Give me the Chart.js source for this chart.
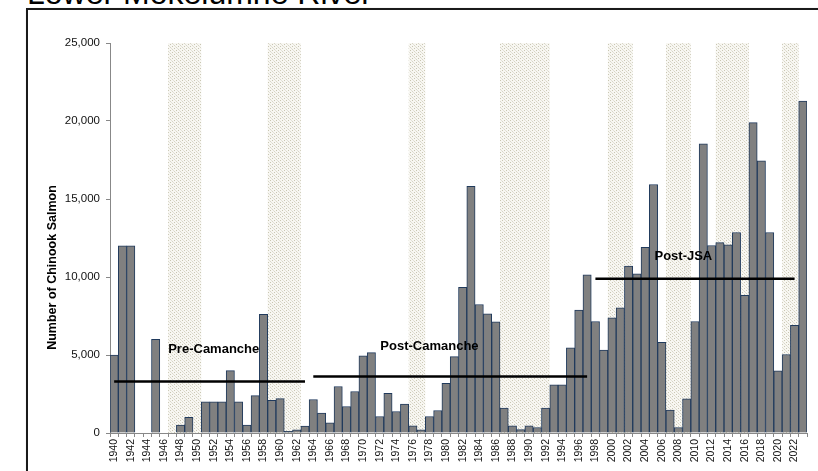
<!DOCTYPE html>
<html>
<head>
<meta charset="utf-8">
<script src="https://cdn.jsdelivr.net/npm/chart.js@4/dist/chart.umd.min.js"></script>
<style>
html, body { margin: 0; padding: 0; background: #fff; overflow: hidden; }
#wrap { position: relative; width: 818px; height: 471px; overflow: hidden; }
#title { position: absolute; left: 27px; top: -23px; margin: 0; font: 32px "Liberation Sans", Arial, sans-serif; line-height: 32px; color: #000; white-space: nowrap; font-weight: normal; }
#frame { position: absolute; left: 26px; top: 8px; width: 900px; height: 600px; border: 2px solid #1a1a1a; box-shadow: 1px 1px 2px #999; }
#chart { position: absolute; left: 0; top: 0; }
</style>
</head>
<body>
<div id="wrap">
  <h1 id="title">Lower Mokelumne River</h1>
  <div id="frame"></div>
  <canvas id="chart" width="818" height="471"></canvas>
</div>
<script>
const years = [1940, 1941, 1942, 1943, 1944, 1945, 1946, 1947, 1948, 1949,
  1950, 1951, 1952, 1953, 1954, 1955, 1956, 1957, 1958, 1959,
  1960, 1961, 1962, 1963, 1964, 1965, 1966, 1967, 1968, 1969,
  1970, 1971, 1972, 1973, 1974, 1975, 1976, 1977, 1978, 1979,
  1980, 1981, 1982, 1983, 1984, 1985, 1986, 1987, 1988, 1989,
  1990, 1991, 1992, 1993, 1994, 1995, 1996, 1997, 1998, 1999,
  2000, 2001, 2002, 2003, 2004, 2005, 2006, 2007, 2008, 2009,
  2010, 2011, 2012, 2013, 2014, 2015, 2016, 2017, 2018, 2019,
  2020, 2021, 2022, 2023];

// escapement per year (null = no count)
const salmon = [5000, 12000, 12000, null, null, 6000, null, null, 500, 1000,
  null, 2000, 2000, 2000, 4000, 2000, 500, 2400, 7600, 2100,
  2200, 100, 200, 450, 2150, 1270, 650, 2980, 1700, 2660,
  4950, 5150, 1060, 2550, 1380, 1850, 460, 200, 1060, 1440,
  3190, 4900, 9330, 15820, 8240, 7640, 7130, 1590, 460, 220,
  460, 350, 1600, 3090, 3090, 5460, 7880, 10140, 7150, 5320,
  7380, 8030, 10700, 10200, 11900, 15930, 5820, 1470, 350, 2190,
  7150, 18540, 12020, 12200, 12060, 12850, 8830, 19900, 17440, 12850,
  3990, 5030, 6900, 21270];

const xTickLabels = [1940, 1942, 1944, 1946, 1948, 1950, 1952, 1954, 1956, 1958,
  1960, 1962, 1964, 1966, 1968, 1970, 1972, 1974, 1976, 1978,
  1980, 1982, 1984, 1986, 1988, 1990, 1992, 1994, 1996, 1998,
  2000, 2002, 2004, 2006, 2008, 2010, 2012, 2014, 2016, 2018,
  2020, 2022];
const yTicks = [0, 5000, 10000, 15000, 20000, 25000];

const droughtYears = [1947, 1948, 1949, 1950, 1959, 1960, 1961, 1962, 1976, 1977,
  1987, 1988, 1989, 1990, 1991, 1992, 2000, 2001, 2002, 2007, 2008, 2009,
  2013, 2014, 2015, 2016, 2021, 2022];

const periodNames = ['Pre-Camanche', 'Post-Camanche', 'Post-JSA'];
const periodStart = [1940, 1964, 1998];
const periodEnd = [1963, 1997, 2022];
const periodMean = [3300, 3620, 9880];

// where each period name sits: category index offset and value
const labelX = [12, 38, 68.6];
const labelY = [5350, 5560, 11300];

function hatch() {
  const c = document.createElement('canvas');
  c.width = 6; c.height = 6;
  const g = c.getContext('2d');
  g.fillStyle = '#f8f7f2';
  g.fillRect(0, 0, 6, 6);
  g.fillStyle = '#c9c6b2';
  for (let i = 0; i < 6; i += 2) g.fillRect(i, i, 1, 1);
  g.fillStyle = '#d8d6c8';
  for (let i = 1; i < 6; i += 2) g.fillRect((i + 3) % 6, i, 1, 1);
  g.fillStyle = '#e3e1d6';
  for (let i = 0; i < 6; i += 2) g.fillRect((i + 3) % 6, i, 1, 1);
  return g.createPattern(c, 'repeat');
}

const bands = {
  id: 'bands',
  beforeDatasetsDraw(chart) {
    const { ctx, scales: { x, y } } = chart;
    const half = (x.getPixelForValue(1) - x.getPixelForValue(0)) / 2;
    const top = y.getPixelForValue(yTicks[yTicks.length - 1]);
    const bottom = y.getPixelForValue(0);
    ctx.save();
    ctx.fillStyle = hatch();
    let i = 0;
    while (i < droughtYears.length) {
      let j = i;
      while (j + 1 < droughtYears.length && droughtYears[j + 1] === droughtYears[j] + 1) j++;
      const x0 = x.getPixelForValue(years.indexOf(droughtYears[i])) - half;
      const x1 = x.getPixelForValue(years.indexOf(droughtYears[j])) + half;
      ctx.fillRect(x0, top, x1 - x0, bottom - top);
      i = j + 1;
    }
    ctx.restore();
  }
};

const texts = {
  id: 'texts',
  afterDraw(chart) {
    const { ctx, scales: { x, y } } = chart;
    ctx.save();
    ctx.fillStyle = '#000';
    ctx.font = 'bold 13px "Liberation Sans", Arial, sans-serif';
    ctx.textAlign = 'center';
    ctx.textBaseline = 'middle';
    periodNames.forEach((n, k) => {
      ctx.fillText(n, x.getPixelForValue(labelX[k]), y.getPixelForValue(labelY[k]));
    });
    ctx.font = 'bold 12.5px "Liberation Sans", Arial, sans-serif';
    ctx.translate(52.5, 267.5);
    ctx.rotate(-Math.PI / 2);
    ctx.fillText('Number of Chinook Salmon', 0, 0);
    ctx.restore();
  }
};

const meanSets = periodNames.map((n, k) => ({
  type: 'line',
  label: n,
  data: years.map(yr => (yr >= periodStart[k] && yr <= periodEnd[k]) ? periodMean[k] : null),
  borderColor: '#000',
  borderWidth: 2.5,
  pointRadius: 0,
  fill: false,
  spanGaps: false,
  order: 1
}));

Chart.defaults.font.family = '"Liberation Sans", Arial, sans-serif';

new Chart(document.getElementById('chart'), {
  type: 'bar',
  data: {
    labels: years,
    datasets: [{
      label: 'Chinook Salmon',
      data: salmon,
      backgroundColor: '#808080',
      borderColor: '#203a5c',
      borderWidth: 1,
      barPercentage: 1,
      categoryPercentage: 1,
      order: 2
    }, ...meanSets]
  },
  options: {
    responsive: false,
    animation: false,
    layout: { padding: { left: 0, top: 43, right: 11, bottom: 0 } },
    plugins: {
      legend: { display: false },
      tooltip: { enabled: false },
      title: { display: false }
    },
    scales: {
      x: {
        afterFit(s) { s.height = 38; },
        grid: { offset: true, drawOnChartArea: false, tickLength: 4, color: '#888' },
        border: { color: '#888' },
        ticks: {
          autoSkip: false,
          maxRotation: 90,
          minRotation: 90,
          padding: 2,
          color: '#111',
          font: { size: 10.5 },
          callback(v, i) { return xTickLabels.includes(years[i]) ? String(years[i]) : ''; }
        }
      },
      y: {
        min: 0,
        max: 25000,
        afterFit(s) { s.width = 110; },
        afterBuildTicks(s) { s.ticks = yTicks.map(v => ({ value: v })); },
        grid: { drawOnChartArea: false, tickLength: 4, color: '#888' },
        border: { color: '#888' },
        ticks: {
          padding: 6,
          color: '#111',
          font: { size: 11.5 },
          callback(v) { return v.toLocaleString('en-US'); }
        }
      }
    }
  },
  plugins: [bands, texts]
});
</script>
</body>
</html>
